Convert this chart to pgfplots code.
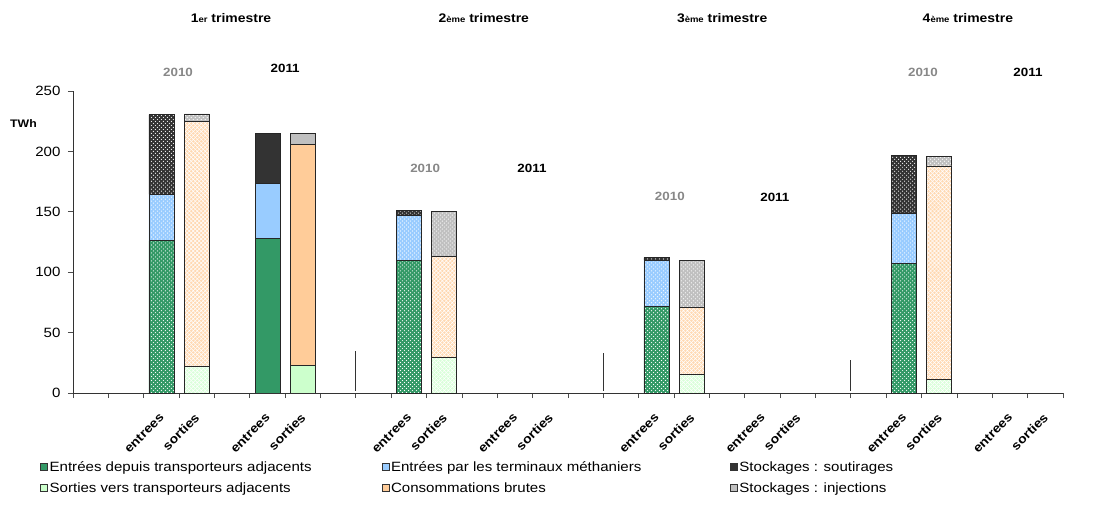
\documentclass[border=0pt]{standalone}
\usepackage{fontspec}
\setmainfont{Liberation Sans}[FakeStretch=1.12]
\usepackage{pgfplots}
\pgfplotsset{compat=1.18}
\usetikzlibrary{patterns}

\definecolor{cGreen}{HTML}{339966}
\definecolor{cBlue}{HTML}{99CCFF}
\definecolor{cBlack}{HTML}{333333}
\definecolor{cLGreen}{HTML}{CCFFCC}
\definecolor{cOrange}{HTML}{FFCC99}
\definecolor{cGray}{HTML}{C0C0C0}
\definecolor{yearGray}{HTML}{888888}

% white dots for the 2010 "entrees" bars, white hatch for the 2010 "sorties" bars
\pgfdeclarepatternformonly{xdots}{\pgfqpoint{-1pt}{-1pt}}{\pgfqpoint{5pt}{5pt}}{\pgfqpoint{4pt}{4pt}}{%
  \pgfpathcircle{\pgfqpoint{0pt}{0pt}}{0.6pt}%
  \pgfpathcircle{\pgfqpoint{2pt}{2pt}}{0.6pt}%
  \pgfusepath{fill}}
\pgfdeclarepatternformonly{xhatch}{\pgfqpoint{-1pt}{-1pt}}{\pgfqpoint{5pt}{5pt}}{\pgfqpoint{4pt}{4pt}}{%
  \pgfsetlinewidth{0.5pt}%
  \pgfpathmoveto{\pgfqpoint{0pt}{0pt}}\pgfpathlineto{\pgfqpoint{4pt}{4pt}}%
  \pgfpathmoveto{\pgfqpoint{0pt}{4pt}}\pgfpathlineto{\pgfqpoint{4pt}{0pt}}%
  \pgfusepath{stroke}}

\pgfplotsset{
  geom/.style={scale only axis, width=990bp, height=302bp,
    xmin=-0.5, xmax=27.5, ymin=0, ymax=250},
  dotbar/.style={fill=#1, draw=black!85, line width=0.7bp,
    postaction={pattern=xdots, pattern color=white}},
  hatchbar/.style={fill=#1, draw=black!85, line width=0.7bp,
    postaction={pattern=xhatch, pattern color=white}},
  solidbar/.style={fill=#1, draw=black!85, line width=0.7bp},
}

\newcommand{\yr}[1]{\bfseries\fontsize{12}{12}\selectfont #1}
\newcommand{\ttl}[2]{\bfseries\fontsize{12.5}{13}\selectfont #1{\fontsize{8.5}{9}\selectfont #2} trimestre}

\begin{document}
\begin{tikzpicture}
% 2010 bars + axes
\begin{axis}[geom,
  ybar stacked, bar width=25bp,
  axis x line*=bottom, axis y line*=left,
  axis line style={black!80, line width=0.8bp},
  ytick={0,50,...,250},
  xtick={2,3,5,6,9,10,12,13,16,17,19,20,23,24,26,27},
  xticklabels={entrees,sorties,entrees,sorties,entrees,sorties,entrees,sorties,
               entrees,sorties,entrees,sorties,entrees,sorties,entrees,sorties},
  minor xtick={-0.5,0.5,...,27.5},
  tick align=outside,
  major tick length=5bp, minor tick length=5bp,
  major x tick style={draw=none},
  tick style={black!70, line width=0.8bp},
  yticklabel style={font=\fontsize{13.5}{14}\selectfont, xshift=-4bp},
  xticklabel shift=18bp,
  xticklabel style={font=\bfseries\fontsize{12.5}{13}\selectfont, rotate=45, anchor=east, xshift=4bp},
  /pgf/number format/assume math mode=true,
  clip=false,
]
\addplot+[dotbar=cGreen, forget plot] coordinates {(2,126) (3,0) (9,109.5) (10,0) (16,71.5) (17,0) (23,107) (24,0)};
\addplot+[dotbar=cBlue, forget plot] coordinates {(2,38.5) (3,0) (9,37.3) (10,0) (16,38.5) (17,0) (23,42) (24,0)};
\addplot+[dotbar=cBlack, forget plot] coordinates {(2,66) (3,0) (9,4) (10,0) (16,2) (17,0) (23,47.5) (24,0)};
\addplot+[hatchbar=cLGreen!75!white, forget plot] coordinates {(2,0) (3,22) (9,0) (10,29.5) (16,0) (17,15.7) (23,0) (24,11)};
\addplot+[hatchbar=cOrange!75!white, forget plot] coordinates {(2,0) (3,202.5) (9,0) (10,83.3) (16,0) (17,55.3) (23,0) (24,177)};
\addplot+[dotbar=cGray, forget plot] coordinates {(2,0) (3,6.5) (9,0) (10,37.2) (16,0) (17,39) (23,0) (24,8)};

\draw[black!80, line width=0.8bp] (axis cs:7.5,2) -- (axis cs:7.5,35);
\draw[black!80, line width=0.8bp] (axis cs:14.5,2) -- (axis cs:14.5,33);
\draw[black!80, line width=0.8bp] (axis cs:21.5,2) -- (axis cs:21.5,27);

\node at (axis cs:3.97,310.4) {\ttl{1}{er}};
\node at (axis cs:11.12,310.4) {\ttl{2}{ème}};
\node at (axis cs:17.86,310.4) {\ttl{3}{ème}};
\node at (axis cs:24.81,310.4) {\ttl{4}{ème}};

\node[yearGray] at (axis cs:2.47,265) {\yr{2010}};
\node at (axis cs:5.5,269) {\yr{2011}};
\node[yearGray] at (axis cs:9.46,186) {\yr{2010}};
\node at (axis cs:12.48,186) {\yr{2011}};
\node[yearGray] at (axis cs:16.38,163) {\yr{2010}};
\node at (axis cs:19.35,162) {\yr{2011}};
\node[yearGray] at (axis cs:23.54,265) {\yr{2010}};
\node at (axis cs:26.51,265) {\yr{2011}};

\node at (axis cs:-1.9,222.7) {\bfseries\fontsize{11}{11}\selectfont TWh};
\end{axis}

% 2011 bars (first quarter only)
\begin{axis}[geom, hide axis, ybar stacked, bar width=25bp]
\addplot+[solidbar=cGreen] coordinates {(5,128) (6,0)};
\addplot+[solidbar=cBlue] coordinates {(5,45.5) (6,0)};
\addplot+[solidbar=cBlack] coordinates {(5,41.5) (6,0)};
\addplot+[solidbar=cLGreen] coordinates {(5,0) (6,23)};
\addplot+[solidbar=cOrange] coordinates {(5,0) (6,183)};
\addplot+[solidbar=cGray] coordinates {(5,0) (6,9)};
\end{axis}

% legend
\begin{axis}[geom, hide axis,
  legend columns=3,
  legend cell align=left,
  legend image code/.code={\draw[#1] (0bp,-3.5bp) rectangle (7bp,3.5bp);},
  legend style={draw=none, fill=none, inner sep=0pt,
    at={(axis description cs:-0.0333,-0.2185)}, anchor=north west,
    font=\fontsize{13.5}{15}\selectfont, row sep=6bp},
]
\addlegendimage{fill=cGreen, draw=black!80}
\addlegendentry{\makebox[330bp][l]{Entrées depuis transporteurs adjacents}}
\addlegendimage{fill=cBlue, draw=black!80}
\addlegendentry{\makebox[337bp][l]{Entrées par les terminaux méthaniers}}
\addlegendimage{fill=cBlack, draw=black!80}
\addlegendentry{Stockages : soutirages}
\addlegendimage{fill=cLGreen, draw=black!80}
\addlegendentry{Sorties vers transporteurs adjacents}
\addlegendimage{fill=cOrange, draw=black!80}
\addlegendentry{Consommations brutes}
\addlegendimage{fill=cGray, draw=black!80}
\addlegendentry{Stockages : injections}
\end{axis}

\pgfresetboundingbox
\path (-73bp,-115bp) rectangle (1022bp,393bp);
\end{tikzpicture}
\end{document}
